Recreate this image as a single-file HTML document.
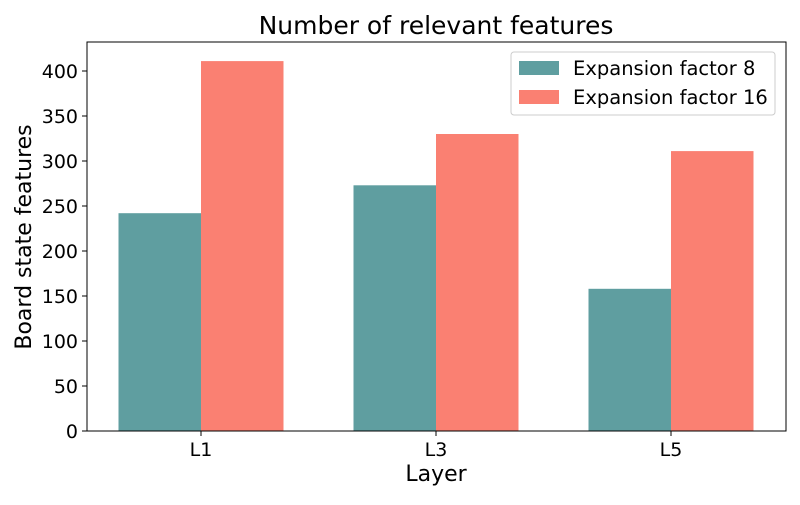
<!DOCTYPE html>
<html><head><meta charset="utf-8"><style>
body{margin:0;background:#fff}
svg{font-family:"DejaVu Sans","Liberation Sans",sans-serif}
</style></head><body>
<svg id="c" width="800" height="500">
<text x="436" y="34" text-anchor="middle" font-size="25">Number of relevant features</text>
<text x="436" y="481" text-anchor="middle" font-size="22">Layer</text>
<text transform="translate(31,237) rotate(-90)" text-anchor="middle" font-size="22">Board state features</text>
<g id="bars"></g><g id="ticks"></g>
<rect x="87" y="42" width="699" height="389" fill="none" stroke="#000" stroke-width="1"/>
<g>
<rect x="511" y="52" width="264" height="63" rx="3" fill="#fff" stroke="#ccc"/>
<rect x="519" y="61" width="40" height="14" fill="#5f9ea0"/>
<text x="573" y="75" font-size="19.5">Expansion factor 8</text>
<rect x="519" y="90" width="40" height="14" fill="#fa8072"/>
<text x="573" y="104" font-size="19.5">Expansion factor 16</text>
</g>
</svg>
<script>
const categories=["L1","L3","L5"];
const ef8=[242,273,158];
const ef16=[411,330,311];
const yTicks=[0,50,100,150,200,250,300,350,400];
const ns="http://www.w3.org/2000/svg";
const y=v=>431-v*0.9;
const x=i=>201+i*235;
const bw=82.5;
const bars=document.getElementById('bars'),ticks=document.getElementById('ticks');
function mk(t,a,p){const e=document.createElementNS(ns,t);for(const k in a)e.setAttribute(k,a[k]);p.appendChild(e);return e;}
categories.forEach((c,i)=>{
 const a=mk('rect',{x:x(i)-bw,y:y(ef8[i]),width:bw,height:ef8[i]*0.9,fill:'#5f9ea0'},bars);
 
 
 const b=mk('rect',{x:x(i),y:y(ef16[i]),width:bw,height:ef16[i]*0.9,fill:'#fa8072'},bars);
 
 
 mk('line',{x1:x(i),x2:x(i),y1:431,y2:436,stroke:'#000'},ticks);
 const t=mk('text',{x:x(i),y:456,'text-anchor':'middle','font-size':19},ticks);
 t.textContent=c;
 
 
});
yTicks.forEach(v=>{
 mk('line',{x1:82,x2:87,y1:y(v),y2:y(v),stroke:'#000'},ticks);
 const t=mk('text',{x:78,y:y(v)+7,'text-anchor':'end','font-size':19},ticks);
 t.textContent=v;
 
 
});
</script>
</body></html>
